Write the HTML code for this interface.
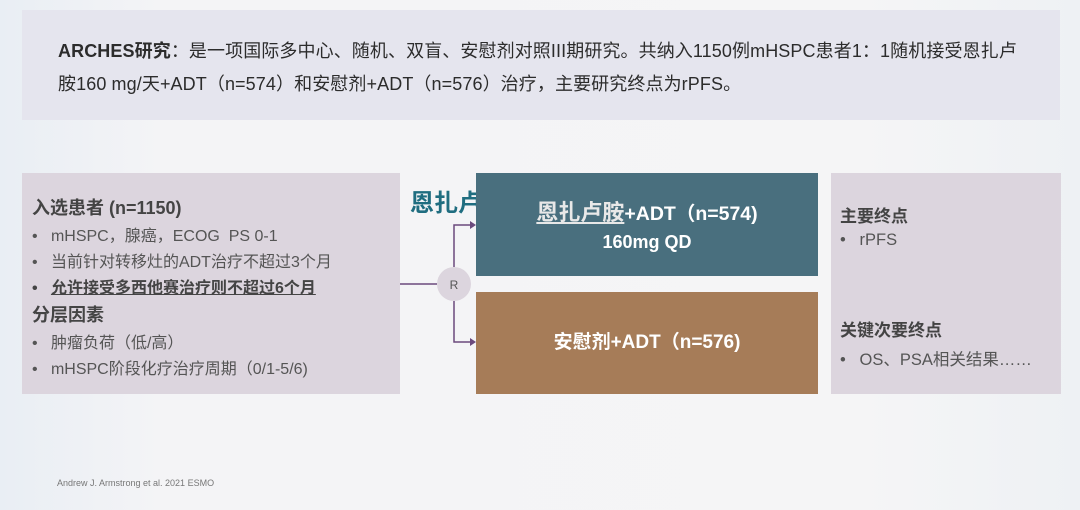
<!DOCTYPE html>
<html><head><meta charset="utf-8"><style>
body{margin:0;width:1080px;height:510px;overflow:hidden;position:relative;font-family:"Liberation Sans","Noto Sans CJK SC",sans-serif;background:linear-gradient(90deg,#e9eef4 0%,#f4f4f6 15%,#f5f5f6 80%,#eef1f4 100%);}
.abs{position:absolute}
.top{left:22px;top:10px;width:1038px;height:110px;background:#e5e5ee;}
.top p{margin:0;position:absolute;left:36px;top:25px;font-size:18px;line-height:33px;color:#2c2c2c;width:1000px;white-space:nowrap;letter-spacing:0.1px}
.lbox{left:22px;top:173px;width:378px;height:221px;background:#dcd5de;color:#555;font-size:16px;}
.lbox div{position:absolute;left:10px;white-space:nowrap}
.h{font-weight:bold;color:#444;font-size:18px}
.rbox{left:831px;top:173px;width:230px;height:221px;background:#dcd5de;color:#555;font-size:16.5px}
.rbox div{position:absolute;left:9px;white-space:nowrap}
</style></head><body>
<div class="abs top"><p><b>ARCHES研究</b>：是一项国际多中心、随机、双盲、安慰剂对照III期研究。共纳入1150例mHSPC患者1：1随机接受恩扎卢<br>胺160 mg/天+ADT（n=574）和安慰剂+ADT（n=576）治疗，主要研究终点为rPFS。</p></div>
<div class="abs" style="left:410px;top:183px;font-size:24px;font-weight:bold;color:#1f6d80">恩扎卢胺</div>
<div class="abs lbox">
<div class="h" style="top:21px">入选患者 (n=1150)</div>
<div style="top:49px">•&nbsp;&nbsp;&nbsp;mHSPC，腺癌，ECOG&nbsp; PS 0-1</div>
<div style="top:75px">•&nbsp;&nbsp;&nbsp;当前针对转移灶的ADT治疗不超过3个月</div>
<div style="top:101px;font-weight:bold;color:#444">•&nbsp;&nbsp;&nbsp;<u>允许接受多西他赛治疗则不超过6个月</u></div>
<div class="h" style="top:128px">分层因素</div>
<div style="top:156px">•&nbsp;&nbsp;&nbsp;肿瘤负荷（低/高）</div>
<div style="top:182px">•&nbsp;&nbsp;&nbsp;mHSPC阶段化疗治疗周期（0/1-5/6)</div>
</div>
<svg class="abs" style="left:0;top:0" width="1080" height="510">
<path d="M400 284H437M454 267V225H474M454 301V342H474" stroke="#6b4a7d" stroke-width="1.5" fill="none"/>
<path d="M470 221l6 4-6 4zM470 338l6 4-6 4z" fill="#6b4a7d"/>
<circle cx="454" cy="284" r="17" fill="#dcd5de"/>
<text x="454" y="289" font-size="12" fill="#555" text-anchor="middle" font-family="Liberation Sans">R</text>
</svg>
<div class="abs" style="left:476px;top:173px;width:342px;height:103px;background:#496f7e;color:#fff;text-align:center;font-weight:bold">
<div style="margin-top:22px;font-size:19.5px"><u style="font-size:22px;color:#e8e8e8">恩扎卢胺</u>+ADT（n=574)</div>
<div style="margin-top:5px;font-size:18px">160mg QD</div></div>
<div class="abs" style="left:476px;top:292px;width:342px;height:102px;background:#a67c58;color:#fff;text-align:center;font-weight:bold;font-size:19px;line-height:102px">安慰剂+ADT（n=576)</div>
<div class="abs rbox">
<div class="h" style="top:29px;font-size:17px">主要终点</div>
<div style="top:58px">•&nbsp;&nbsp;&nbsp;rPFS</div>
<div class="h" style="top:143px;font-size:17px">关键次要终点</div>
<div style="top:173px">•&nbsp;&nbsp;&nbsp;OS、PSA相关结果……</div>
</div>
<div class="abs" style="left:57px;top:478px;font-size:9px;color:#777">Andrew J. Armstrong et al. 2021 ESMO</div>
</body></html>
